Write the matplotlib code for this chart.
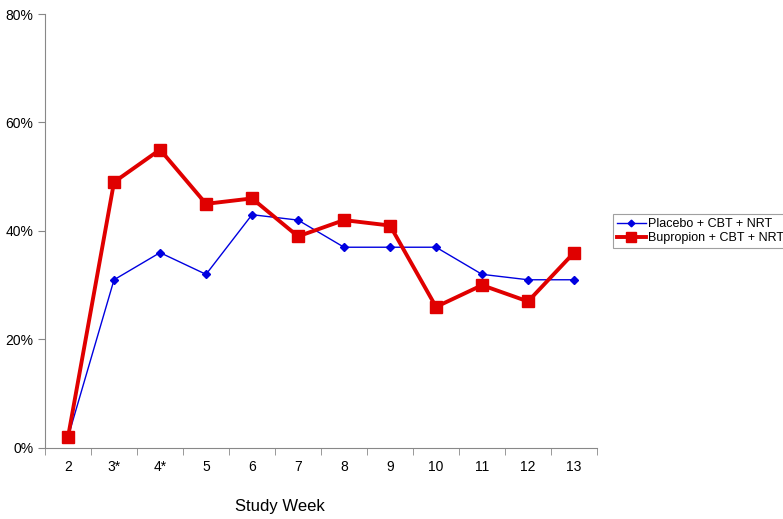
import numpy as np
import matplotlib
matplotlib.use("Agg")
import matplotlib.pyplot as plt
from matplotlib.ticker import FuncFormatter, FixedLocator

plt.rcParams['font.family'] = ['Liberation Sans', 'DejaVu Sans']

# dados
semanas = ['2', '3*', '4*', '5', '6', '7', '8', '9', '10', '11', '12', '13']
placebo = [2, 31, 36, 32, 43, 42, 37, 37, 37, 32, 31, 31]
bupropion = [2, 49, 55, 45, 46, 39, 42, 41, 26, 30, 27, 36]

fig = plt.figure(figsize=(7.83, 5.19), dpi=100)
ax = fig.add_axes([0.0575, 0.137, 0.705, 0.836])

x = np.arange(len(semanas))
ax.plot(x, placebo, color='#0000e0', lw=1, marker='D', ms=4,
        label='Placebo + CBT + NRT')
ax.plot(x, bupropion, color='#e00000', lw=2.8, marker='s', ms=8,
        label='Bupropion + CBT + NRT')

ax.set_xlim(-0.5, len(semanas) - 0.5)
ax.set_ylim(0, 80)
ax.set_yticks([0, 20, 40, 60, 80])
ax.yaxis.set_major_formatter(FuncFormatter(lambda v, p: '%d%%' % v))
ax.set_xticks(x)
ax.set_xticklabels(semanas)
ax.xaxis.set_minor_locator(FixedLocator(np.arange(-0.5, len(semanas), 1)))
ax.tick_params(axis='x', which='major', length=0, pad=9, labelsize=10)
ax.tick_params(axis='x', which='minor', length=5, color='#888888')
ax.tick_params(axis='y', length=5, color='#888888', labelsize=10)

for s in ['top', 'right']:
    ax.spines[s].set_visible(False)
for s in ['left', 'bottom']:
    ax.spines[s].set_color('#888888')

fig.text(0.357, 0.015, 'Study Week', ha='center', fontsize=12)

leg = ax.legend(loc='center left', bbox_to_anchor=(0.783, 0.555),
                bbox_transform=fig.transFigure, frameon=True, fancybox=False,
                fontsize=9, handlelength=2.3, borderpad=0.3, labelspacing=0.15,
                handletextpad=0.2, borderaxespad=0)
leg.get_frame().set_edgecolor('#888888')
leg.get_frame().set_linewidth(0.8)
for h in leg.legend_handles:
    h.set_markersize(h.get_markersize() * 0.85)

fig.savefig('out.png', dpi=100)
